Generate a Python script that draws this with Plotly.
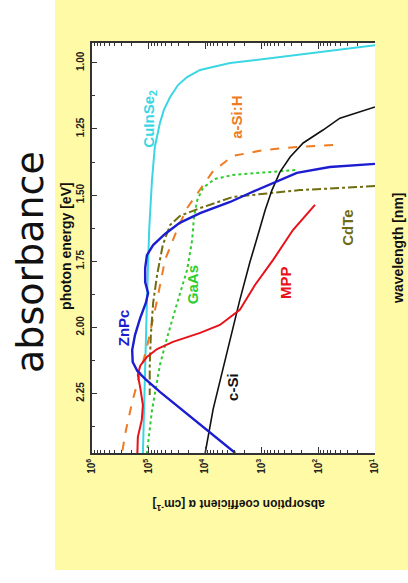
import plotly.graph_objects as go

# ---------------- data (photon energy [eV], absorption coefficient [cm^-1]) ----------------
cuinse2_E = [0.933, 0.967, 1.001, 1.012, 1.027, 1.054, 1.084, 1.129, 1.178, 1.227, 1.318, 1.443, 1.632, 1.897, 2.199, 2.475]
cuinse2_a = [10, 214, 3630, 6170, 12300, 20900, 30200, 41700, 53700, 63100, 77600, 87100, 97700, 107000, 115000, 126000]

asih_E = [1.311, 1.318, 1.330, 1.352, 1.409, 1.492, 1.549, 1.632, 1.745, 1.897, 2.074, 2.173, 2.275, 2.388, 2.475]
asih_a = [55, 240, 955, 3240, 7240, 13800, 20900, 31600, 51300, 70800, 107000, 141000, 191000, 251000, 295000]

gaas_E = [1.405, 1.416, 1.424, 1.439, 1.473, 1.519, 1.583, 1.670, 1.783, 1.897, 2.029, 2.142, 2.313, 2.475]
gaas_a = [257, 1070, 3240, 6760, 11000, 13800, 15800, 17000, 20900, 30200, 45700, 63100, 87100, 107000]

znpc_E = [1.382, 1.394, 1.416, 1.454, 1.492, 1.526, 1.568, 1.605, 1.647, 1.689, 1.727, 1.776, 1.829, 1.870,
          1.908, 1.965, 2.029, 2.086, 2.131, 2.165, 2.195, 2.244, 2.305, 2.365, 2.475]
znpc_a = [10, 63, 240, 631, 1620, 3630, 12300, 28200, 51300, 83200, 107000, 115000, 115000, 102000,
          112000, 141000, 174000, 195000, 191000, 158000, 115000, 63100, 28200, 12300, 2950]

cdte_E = [1.466, 1.481, 1.507, 1.549, 1.579, 1.613, 1.689, 1.802, 1.908, 2.029, 2.142, 2.256]
cdte_a = [10, 214, 3240, 12300, 28200, 41700, 56200, 70800, 83200, 91200, 95500, 95500]

csi_E = [1.167, 1.209, 1.254, 1.303, 1.356, 1.413, 1.481, 1.556, 1.651, 1.753, 1.897, 2.048, 2.199, 2.309, 2.475]
csi_a = [10, 41.7, 83, 186, 316, 479, 661, 871, 1170, 1620, 2450, 3630, 5500, 7240, 10000]

mpp_E = [1.537, 1.632, 1.745, 1.840, 1.934, 1.991, 2.021, 2.055, 2.082, 2.112, 2.146, 2.180, 2.226, 2.294, 2.350, 2.415, 2.475]
mpp_a = [115, 282, 631, 1320, 2450, 5500, 12300, 37200, 70800, 107000, 141000, 155000, 141000, 126000, 132000, 155000, 158000]

alpha_tick_exponents = [6, 5, 4, 3, 2, 1]
energy_ticks = [1.00, 1.25, 1.50, 1.75, 2.00, 2.25]
wavelength_major = [600, 800, 1000, 1200]
wavelength_minor = [700, 900, 1100, 1300]

# ---------------- figure ----------------
FONT = "Liberation Sans, Arial, sans-serif"
frame = "#333333"

series = [
    ("CuInSe2", cuinse2_E, cuinse2_a, "#3ad6e4", "solid", 2),
    ("a-Si:H", asih_E, asih_a, "#ee7a22", "dash", 2),
    ("GaAs", gaas_E, gaas_a, "#2ecc2e", "dot", 2),
    ("CdTe", cdte_E, cdte_a, "#6f6c12", "dashdot", 2),
    ("c-Si", csi_E, csi_a, "#111111", "solid", 1.6),
    ("MPP", mpp_E, mpp_a, "#e8121a", "solid", 2),
    ("ZnPc", znpc_E, znpc_a, "#1c1cd0", "solid", 2.4),
]

fig = go.Figure()
for name, E, a, col, dash, w in series:
    fig.add_trace(go.Scatter(x=a, y=E, mode="lines", name=name,
                             line=dict(color=col, dash=dash, width=w), showlegend=False))

minor_alpha = [m * 10 ** k for k in range(1, 6) for m in range(2, 10)]
tickfont = dict(family=FONT, size=10, color="#222", weight="bold")

fig.update_layout(
    width=408, height=583, autosize=False,
    margin=dict(l=92, r=33, t=43, b=130),
    paper_bgcolor="white", plot_bgcolor="white",
    xaxis=dict(type="log", range=[6, 1], autorange=False,
               tickvals=[10 ** k for k in alpha_tick_exponents],
               ticktext=[f"10<sup>{k}</sup>" for k in alpha_tick_exponents],
               tickangle=-90, ticks="inside", ticklen=6, tickcolor=frame,
               showline=True, linecolor=frame, linewidth=1.5, mirror="ticks",
               showgrid=False, zeroline=False,
               minor=dict(tickvals=minor_alpha, ticks="inside", ticklen=3, tickcolor=frame, showgrid=False),
               tickfont=tickfont),
    yaxis=dict(range=[2.475, 0.925], autorange=False,
               tickvals=energy_ticks, ticktext=[f"{v:.2f}" for v in energy_ticks],
               tickangle=-90, ticks="inside", ticklen=5, tickcolor=frame,
               showline=True, linecolor=frame, linewidth=1.5, mirror=False,
               showgrid=False, zeroline=False,
               minor=dict(dtick=0.125, tick0=1.0, ticks="inside", ticklen=3, tickcolor=frame, showgrid=False),
               tickfont=tickfont, ticklabelstandoff=2),
    yaxis2=dict(overlaying="y", side="right", anchor="x", range=[2.475, 0.925], autorange=False,
                tickvals=[1240 / w for w in wavelength_major], ticktext=[str(w) for w in wavelength_major],
                tickangle=-90, ticks="inside", ticklen=5, tickcolor=frame,
                showline=True, linecolor=frame, linewidth=1.5,
                showgrid=False, zeroline=False,
                minor=dict(tickvals=[1240 / w for w in wavelength_minor], ticks="inside", ticklen=3,
                           tickcolor=frame, showgrid=False),
                tickfont=tickfont),
)

fig.add_shape(type="rect", xref="paper", yref="paper", x0=-0.1307, x1=1.12, y0=-0.2854, y1=1.12,
              fillcolor="#fffaa6", line=dict(width=0), layer="below")
fig.add_shape(type="rect", xref="paper", yref="paper", x0=0, x1=1, y0=0, y1=1,
              fillcolor="white", line=dict(width=0), layer="below")

labels = [
    ("CuInSe<sub>2</sub>", 4.98, 1.212, "#3ad6e4"),
    ("a-Si:H", 3.46, 1.205, "#ee7a22"),
    ("ZnPc", 5.45, 2.003, "#1c1cd0"),
    ("GaAs", 4.23, 1.840, "#2ecc2e"),
    ("c-Si", 3.53, 2.226, "#111111"),
    ("MPP", 2.57, 1.832, "#e8121a"),
    ("CdTe", 1.48, 1.624, "#6f6c12"),
]
for txt, lx, ly, col in labels:
    fig.add_annotation(text=txt, x=lx, y=ly, xref="x", yref="y", showarrow=False, textangle=-90,
                       xanchor="center", yanchor="middle",
                       font=dict(family=FONT, size=15, color=col, weight="bold"))

common = dict(xref="paper", yref="paper", showarrow=False, xanchor="center", yanchor="middle")
fig.add_annotation(text="photon energy [eV]", x=-0.092, y=0.505, textangle=-90,
                   font=dict(family=FONT, size=14, color="#111", weight="bold"), **common)
fig.add_annotation(text="wavelength [nm]", x=1.081, y=0.50, textangle=-90,
                   font=dict(family=FONT, size=14, color="#111", weight="bold"), **common)
fig.add_annotation(text="absorption coefficient α [cm<sup>-1</sup>]", x=0.519, y=-0.127, textangle=180,
                   font=dict(family=FONT, size=12, color="#111", weight="bold"), **common)
fig.add_annotation(text="absorbance", x=-0.219, y=0.466, textangle=-90,
                   font=dict(family="DejaVu Sans, sans-serif", size=38, color="#111"), **common)

fig.write_html("out.html", config={"displayModeBar": False},
               post_script="document.body.style.margin='0';")
